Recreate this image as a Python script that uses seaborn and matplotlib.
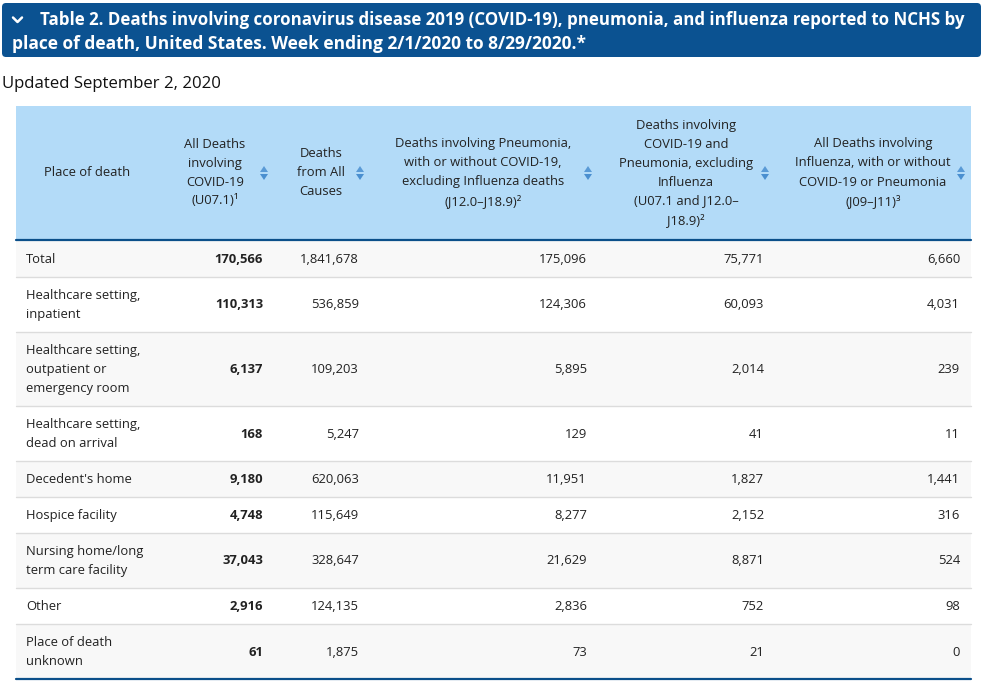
import matplotlib
matplotlib.use("Agg")
import matplotlib.pyplot as plt
import seaborn as sns
from matplotlib.patches import Rectangle, FancyBboxPatch, Polygon

# ---------------- data ----------------
title_lines = [
    "Table 2. Deaths involving coronavirus disease 2019 (COVID-19), pneumonia, and influenza reported to NCHS by",
    "place of death, United States. Week ending 2/1/2020 to 8/29/2020.*",
]
updated = "Updated September 2, 2020"

places = [
    "Total",
    "Healthcare setting,\ninpatient",
    "Healthcare setting,\noutpatient or\nemergency room",
    "Healthcare setting,\ndead on arrival",
    "Decedent's home",
    "Hospice facility",
    "Nursing home/long\nterm care facility",
    "Other",
    "Place of death\nunknown",
]
covid_deaths = [170566, 110313, 6137, 168, 9180, 4748, 37043, 2916, 61]
all_causes = [1841678, 536859, 109203, 5247, 620063, 115649, 328647, 124135, 1875]
pneumonia = [175096, 124306, 5895, 129, 11951, 8277, 21629, 2836, 73]
covid_pneumonia = [75771, 60093, 2014, 41, 1827, 2152, 8871, 752, 21]
influenza = [6660, 4031, 239, 11, 1441, 316, 524, 98, 0]

headers = [
    "Place of death",
    "All Deaths\ninvolving\nCOVID-19\n(U07.1)¹",
    "Deaths\nfrom All\nCauses",
    "Deaths involving Pneumonia,\nwith or without COVID-19,\nexcluding Influenza deaths\n(J12.0–J18.9)²",
    "Deaths involving\nCOVID-19 and\nPneumonia, excluding\nInfluenza\n(U07.1 and J12.0–\nJ18.9)²",
    "All Deaths involving\nInfluenza, with or without\nCOVID-19 or Pneumonia\n(J09–J11)³",
]

# ---------------- style ----------------
sns.set_theme(style="white")
plt.rcParams["font.family"] = ["Open Sans", "DejaVu Sans"]

W, H = 981, 686
fig = plt.figure(figsize=(W / 100, H / 100), dpi=100)
ax = fig.add_axes([0, 0, 1, 1])
ax.set_xlim(0, W)
ax.set_ylim(H, 0)
ax.axis("off")

def pt(px):
    return px * 0.72

TITLE_BG = "#0b5291"
HEAD_BG = "#b3dbf8"
BORDER = "#0b4f8a"
STRIPE = "#f8f8f8"
SEP = "#dcdcdc"
TXT = "#222222"
ICON = "#4a8fd0"

# title bar
ax.add_patch(FancyBboxPatch((2, 3), 979, 54, boxstyle="round,pad=0,rounding_size=4",
                            fc=TITLE_BG, ec="none"))
ax.plot([13, 17.5, 22], [17.5, 22, 17.5], color="white", lw=1.8, solid_capstyle="round")
ax.text(40, 20, title_lines[0], color="white", fontsize=pt(16.9), fontweight="bold",
        va="center", ha="left")
ax.text(12, 44, title_lines[1], color="white", fontsize=pt(17.4), fontweight="bold",
        va="center", ha="left")

ax.text(2, 84, updated, color="#111111", fontsize=pt(16.8), va="center", ha="left")

# table geometry
TX0, TX1 = 16, 971
HY0, HY1 = 106, 240
LINE = 19
ax.add_patch(Rectangle((TX0, HY0), TX1 - TX0, HY1 - HY0, fc=HEAD_BG, ec="none"))

head_cx = [87, 215, 321, 483, 686, 873]
icon_x = [None, 264, 360, 588, 765, 961]
hc = 172.5
fs = pt(13)
for h, cx, ix in zip(headers, head_cx, icon_x):
    lines = h.split("\n")
    n = len(lines)
    for k, ln in enumerate(lines):
        y = hc + (k - (n - 1) / 2) * LINE
        ax.text(cx, y, ln, fontsize=fs, color=TXT, ha="center", va="center")
    if ix is not None:
        ax.add_patch(Polygon([[ix - 4, 172], [ix + 4, 172], [ix, 166]], closed=True,
                             fc=ICON, ec="none", alpha=0.85))
        ax.add_patch(Polygon([[ix - 4, 174], [ix + 4, 174], [ix, 180]], closed=True,
                             fc=ICON, ec="none"))

# body rows
cols = [covid_deaths, all_causes, pneumonia, covid_pneumonia, influenza]
col_right = [263, 359, 587, 764, 960]
y = HY1 + 1
for i, place in enumerate(places):
    lines = place.split("\n")
    n = len(lines)
    h = 17 + LINE * n
    if i % 2 == 0:
        ax.add_patch(Rectangle((TX0, y), TX1 - TX0, h, fc=STRIPE, ec="none"))
    if i > 0:
        ax.plot([TX0, TX1], [y, y], color=SEP, lw=1)
    cy = y + h / 2 + 0.5
    for k, ln in enumerate(lines):
        ax.text(26, cy + (k - (n - 1) / 2) * LINE, ln, fontsize=fs, color=TXT,
                ha="left", va="center")
    for j, (col, xr) in enumerate(zip(cols, col_right)):
        ax.text(xr, cy, f"{col[i]:,}", fontsize=fs, color=TXT, ha="right", va="center",
                fontweight="bold" if j == 0 else "normal")
    y += h

ax.plot([TX0, TX1], [HY1, HY1], color=BORDER, lw=1.6)
ax.plot([TX0, TX1], [y, y], color=BORDER, lw=1.6)

fig.savefig("out.png", dpi=100, facecolor="white")
